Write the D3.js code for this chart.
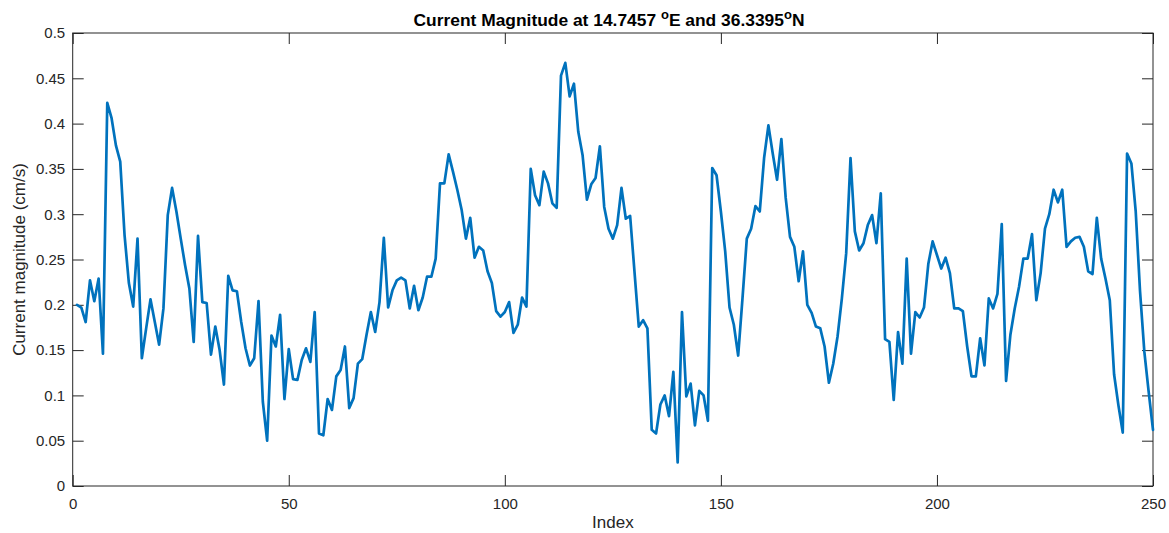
<!DOCTYPE html>
<html>
<head>
<meta charset="utf-8">
<script src="https://cdn.jsdelivr.net/npm/d3@7"></script>
<style>
  html, body { margin: 0; padding: 0; background: #fff; }
  svg { display: block; }
  text { font-family: "Liberation Sans", Arial, Helvetica, sans-serif; }
</style>
</head>
<body>
<svg id="chart" width="1169" height="533"></svg>
<script>
const magnitude = [
  0.200, 0.197, 0.181, 0.227, 0.204, 0.229, 0.146, 0.423, 0.406, 0.376,
  0.358, 0.277, 0.224, 0.198, 0.273, 0.141, 0.174, 0.206, 0.181, 0.156,
  0.196, 0.299, 0.329, 0.303, 0.273, 0.244, 0.218, 0.159, 0.276, 0.203,
  0.202, 0.145, 0.176, 0.150, 0.112, 0.232, 0.216, 0.215, 0.181, 0.152,
  0.133, 0.141, 0.204, 0.093, 0.050, 0.166, 0.154, 0.189, 0.096, 0.151,
  0.118, 0.117, 0.139, 0.152, 0.137, 0.192, 0.058, 0.056, 0.096, 0.084,
  0.121, 0.128, 0.154, 0.086, 0.097, 0.135, 0.140, 0.167, 0.192, 0.170,
  0.203, 0.274, 0.197, 0.216, 0.227, 0.230, 0.227, 0.196, 0.221, 0.194,
  0.208, 0.231, 0.231, 0.251, 0.334, 0.334, 0.366, 0.347, 0.327, 0.305,
  0.273, 0.296, 0.252, 0.264, 0.260, 0.237, 0.224, 0.193, 0.187, 0.192,
  0.203, 0.169, 0.178, 0.208, 0.198, 0.350, 0.321, 0.310, 0.347, 0.334,
  0.312, 0.307, 0.453, 0.467, 0.430, 0.444, 0.391, 0.365, 0.316, 0.333,
  0.340, 0.375, 0.308, 0.284, 0.273, 0.288, 0.329, 0.295, 0.298, 0.237,
  0.176, 0.183, 0.174, 0.062, 0.058, 0.090, 0.100, 0.077, 0.126, 0.026,
  0.192, 0.099, 0.113, 0.067, 0.105, 0.100, 0.072, 0.351, 0.343, 0.303,
  0.259, 0.197, 0.178, 0.144, 0.207, 0.273, 0.284, 0.309, 0.303, 0.362,
  0.398, 0.367, 0.338, 0.383, 0.318, 0.275, 0.264, 0.226, 0.259, 0.200,
  0.191, 0.176, 0.174, 0.154, 0.114, 0.135, 0.165, 0.207, 0.257, 0.362,
  0.281, 0.260, 0.268, 0.288, 0.299, 0.268, 0.323, 0.162, 0.159, 0.095,
  0.170, 0.135, 0.251, 0.146, 0.192, 0.186, 0.197, 0.245, 0.270, 0.255,
  0.240, 0.252, 0.235, 0.196, 0.196, 0.193, 0.154, 0.121, 0.121, 0.163,
  0.133, 0.207, 0.196, 0.212, 0.289, 0.116, 0.167, 0.196, 0.220, 0.251,
  0.251, 0.278, 0.205, 0.235, 0.284, 0.300, 0.327, 0.313, 0.327, 0.264,
  0.270, 0.274, 0.275, 0.264, 0.237, 0.234, 0.296, 0.251, 0.229, 0.205,
  0.123, 0.089, 0.059, 0.367, 0.356, 0.303, 0.215, 0.148, 0.104, 0.062
];
const xTicks = [0, 50, 100, 150, 200, 250];
const yTicks = [0, 0.05, 0.1, 0.15, 0.2, 0.25, 0.3, 0.35, 0.4, 0.45, 0.5];
const yTickLabels = ["0", "0.05", "0.1", "0.15", "0.2", "0.25", "0.3", "0.35", "0.4", "0.45", "0.5"];
const titleParts = ["Current Magnitude at 14.7457 ", "o", "E and 36.3395", "o", "N"];
const xLabel = "Index";
const yLabel = "Current magnitude (cm/s)";

const svg = d3.select("#chart");
const L = 72.7, R = 1153, T = 33, B = 486;
const axisColor = "#262626";

const x = d3.scaleLinear().domain([0, 250]).range([L, R]);
const y = d3.scaleLinear().domain([0, 0.5]).range([B, T]);

function styleAxis(g) {
  g.select(".domain").remove();
  g.selectAll(".tick line").attr("stroke", axisColor).attr("stroke-width", 1);
  g.selectAll(".tick text").attr("fill", axisColor).attr("font-size", 15)
    .attr("font-family", '"Liberation Sans", Arial, Helvetica, sans-serif');
}

svg.append("g").attr("transform", `translate(0,${B})`)
  .call(d3.axisBottom(x).tickValues(xTicks).tickSize(-11).tickPadding(12.5).tickFormat(d3.format("d")))
  .call(styleAxis);
svg.append("g").attr("transform", `translate(0,${T})`)
  .call(d3.axisTop(x).tickValues(xTicks).tickSize(-11).tickFormat(""))
  .call(styleAxis);
svg.append("g").attr("transform", `translate(${L},0)`)
  .call(d3.axisLeft(y).tickValues(yTicks).tickSize(-11).tickPadding(7.5)
    .tickFormat((d, i) => yTickLabels[i]))
  .call(styleAxis);
svg.append("g").attr("transform", `translate(${R},0)`)
  .call(d3.axisRight(y).tickValues(yTicks).tickSize(-11).tickFormat(""))
  .call(styleAxis);

svg.append("rect")
  .attr("x", L).attr("y", T).attr("width", R - L).attr("height", B - T)
  .attr("fill", "none").attr("stroke", axisColor).attr("stroke-width", 1);

const line = d3.line()
  .x((d, i) => x(i + 1))
  .y(d => y(d));

svg.append("path")
  .datum(magnitude)
  .attr("d", line)
  .attr("fill", "none")
  .attr("stroke", "#0072BD")
  .attr("stroke-width", 2.7)
  .attr("stroke-linejoin", "round")
  .attr("stroke-linecap", "round");

// Title
const title = svg.append("text")
  .attr("x", 609).attr("y", 25.5)
  .attr("text-anchor", "middle")
  .attr("font-size", 17.4)
  .attr("font-weight", "bold")
  .attr("fill", "#000");
titleParts.forEach((p, i) => {
  if (p === "o") {
    title.append("tspan").attr("dy", -6.5).attr("font-size", 13).text(p);
  } else {
    title.append("tspan").attr("dy", i === 0 ? 0 : 6.5).text(p);
  }
});

svg.append("text")
  .attr("x", (L + R) / 2).attr("y", 528)
  .attr("text-anchor", "middle")
  .attr("font-size", 17)
  .attr("fill", axisColor)
  .text(xLabel);

svg.append("text")
  .attr("transform", `translate(25,${(T + B) / 2}) rotate(-90)`)
  .attr("text-anchor", "middle")
  .attr("font-size", 17)
  .attr("fill", axisColor)
  .text(yLabel);
</script>
</body>
</html>
